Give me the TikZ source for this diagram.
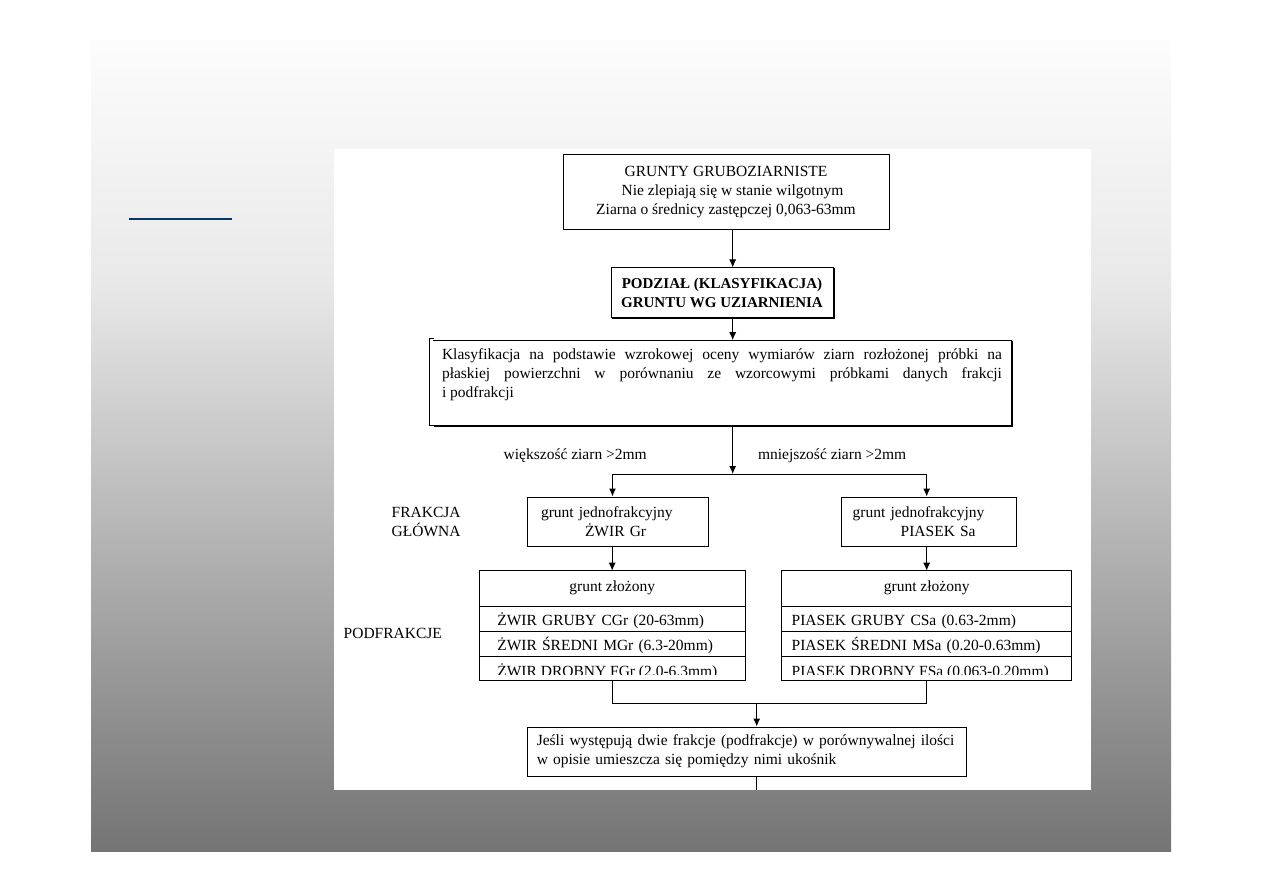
\documentclass[tikz,border=0pt]{standalone}
\usepackage{fontspec}
\setmainfont{Liberation Serif}
\usetikzlibrary{arrows.meta,positioning}

\definecolor{bgtop}{gray}{0.99}
\definecolor{bgmid}{gray}{0.914}
\definecolor{bgbot}{gray}{0.455}
\definecolor{slidenavy}{RGB}{8,52,102}

\begin{document}
\begin{tikzpicture}[
    x=1pt, y=-1pt,
    font=\fontsize{15.5}{19}\selectfont,
    box/.style={draw, line width=1pt, align=center, inner sep=0pt},
    frac/.style={draw, line width=1pt, text width=153pt, minimum height=49pt,
                 inner ysep=0pt, align=left},
    head/.style={draw, line width=1pt, minimum height=36pt, text height=6pt,
                 text depth=0pt, inner sep=0pt, outer sep=0pt, align=center},
    zrow/.style={draw, line width=1pt, minimum height=#1, text height=13pt,
                 text depth=0pt, inner ysep=0pt, outer sep=0pt, align=left},
    note/.style={inner sep=0pt, outer sep=0pt},
    link/.style={line width=1pt},
    arr/.style={-{Latex[length=8pt,width=7pt]}, line width=1pt}
]
    % slide background
    \useasboundingbox (0,0) rectangle (1263,893);
    \fill[white] (0,0) rectangle (1263,893);
    \shade[top color=bgtop, bottom color=bgmid] (91,41) rectangle (1171,280);
    \shade[top color=bgmid, bottom color=bgbot] (91,280) rectangle (1171,851);
    \draw[slidenavy, line width=2pt] (129,219.5) -- (232,219.5);
    \fill[white] (334,149) rectangle (1091,790);

    % main column
    \node[box, minimum width=326pt, minimum height=74.3pt] (coarse) at (726,192)
        {GRUNTY GRUBOZIARNISTE\\ \hspace*{13pt}Nie zlepiają się w stanie wilgotnym\\
         Ziarna o średnicy zastępczej 0,063-63mm};
    \node[box, minimum width=222pt, minimum height=49pt,
          font=\bfseries\fontsize{15}{19}\selectfont] (split) at (722,292.5)
        {PODZIAŁ (KLASYFIKACJA)\\ GRUNTU WG UZIARNIENIA};
    \node[box, draw=none, minimum width=578pt, minimum height=84.6pt, align=left] (visual) at (722,383)
        {\makebox[560pt][s]{Klasyfikacja na podstawie wzrokowej oceny wymiarów ziarn rozłożonej próbki na}\\
         \makebox[560pt][s]{płaskiej powierzchni w porównaniu ze wzorcowymi próbkami danych frakcji}\\
         i podfrakcji\\ \mbox{}};
    \draw[link] (visual.north west) -- (visual.north east) -- (visual.south east) -- (visual.south west);
    \draw[link] ([xshift=1pt,yshift=2pt]visual.north west) -- ++(-4.5,0) |- (visual.south west);
    \draw[link] ([xshift=1pt,yshift=-1pt]split.north east) |- ([xshift=1pt,yshift=-1pt]split.south west);
    \draw[link] ([xshift=1pt,yshift=-1pt]visual.north east) |- ([xshift=1pt,yshift=-1pt]visual.south west);

    \coordinate (spine) at (732.7,474);
    \coordinate (lsp) at (612.5,474);
    \coordinate (rsp) at (926.7,474);
    \draw[arr] (coarse.south -| spine) -- (split.north -| spine);
    \draw[arr] (split.south -| spine) -- (visual.north -| spine);
    \draw[arr] (visual.south -| spine) -- (spine);
    \draw[link] (lsp) -- (rsp);

    \node[note, anchor=base west] (more) at (503.7,459.5) {większość ziarn >2mm};
    \node[note, anchor=base west] (less) at (758,459.5) {mniejszość ziarn >2mm};

    % main fraction
    \node[frac, inner xsep=14pt] (gravel) at (617.5,521.5)
        {grunt jednofrakcyjny\\ \hspace*{44pt}ŻWIR Gr};
    \node[frac, inner xsep=11pt] (sand) at (929.2,521.5)
        {grunt jednofrakcyjny\\ \hspace*{48pt}PIASEK Sa};
    \draw[arr] (lsp) -- (gravel.north -| lsp);
    \draw[arr] (rsp) -- (sand.north -| rsp);
    \node[note, anchor=base west, align=left] (mainfr) at (391.7,536.5) {FRAKCJA\\ GŁÓWNA};

    % subfractions, gravel
    \node[head, minimum width=265.7pt] (zl) at (612.2,588.7) {grunt złożony};
    \node[zrow=25pt, text width=229.7pt, inner xsep=18pt, below=0pt of zl] (zl1) {ŻWIR GRUBY CGr (20-63mm)};
    \node[zrow=24.3pt, text width=229.7pt, inner xsep=18pt, below=0pt of zl1] (zl2) {ŻWIR ŚREDNI MGr (6.3-20mm)};
    \node[zrow=24pt, text width=229.7pt, inner xsep=18pt, below=0pt of zl2] (zl3) {};
    \begin{scope}
        \clip (zl3.north west) rectangle ([yshift=6pt]zl3.south east);
        \node[note, anchor=base west] (zl3t) at ([xshift=18pt,yshift=-20.5pt]zl3.north west)
            {ŻWIR DROBNY FGr (2.0-6.3mm)};
    \end{scope}
    \draw[arr] (gravel.south -| zl) -- (zl.north);

    % subfractions, sand
    \node[head, minimum width=290pt] (zp) at (926.7,588.7) {grunt złożony};
    \node[zrow=25pt, text width=270pt, inner xsep=10pt, below=0pt of zp] (zp1) {PIASEK GRUBY CSa (0.63-2mm)};
    \node[zrow=24.3pt, text width=270pt, inner xsep=10pt, below=0pt of zp1] (zp2) {PIASEK ŚREDNI MSa (0.20-0.63mm)};
    \node[zrow=24pt, text width=270pt, inner xsep=10pt, below=0pt of zp2] (zp3) {};
    \begin{scope}
        \clip (zp3.north west) rectangle ([yshift=6pt]zp3.south east);
        \node[note, anchor=base west] (zp3t) at ([xshift=10pt,yshift=-20.5pt]zp3.north west)
            {PIASEK DROBNY FSa (0.063-0.20mm)};
    \end{scope}
    \draw[arr] (sand.south -| zp) -- (zp.north);

    \node[note, anchor=base west] (subfr) at (343.7,638.5) {PODFRAKCJE};

    % joint note
    \node[box, text width=420pt, inner xsep=9.8pt, minimum height=49pt, align=left] (slash) at (746.8,751.5)
        {Jeśli występują dwie frakcje (podfrakcje) w porównywalnej ilości\\
         w opisie umieszcza się pomiędzy nimi ukośnik};
    \coordinate (jl) at (612.2,703.3);
    \coordinate (jr) at (926.7,703.3);
    \coordinate (jm) at (756.7,703.3);
    \coordinate (cut) at (756.7,790);
    \draw[link] (zl3.south) -- (jl) -- (jr) -- (zp3.south);
    \draw[arr] (jm) -- (slash.north -| jm);
    \draw[link] (slash.south -| cut) -- (cut);
\end{tikzpicture}
\end{document}
